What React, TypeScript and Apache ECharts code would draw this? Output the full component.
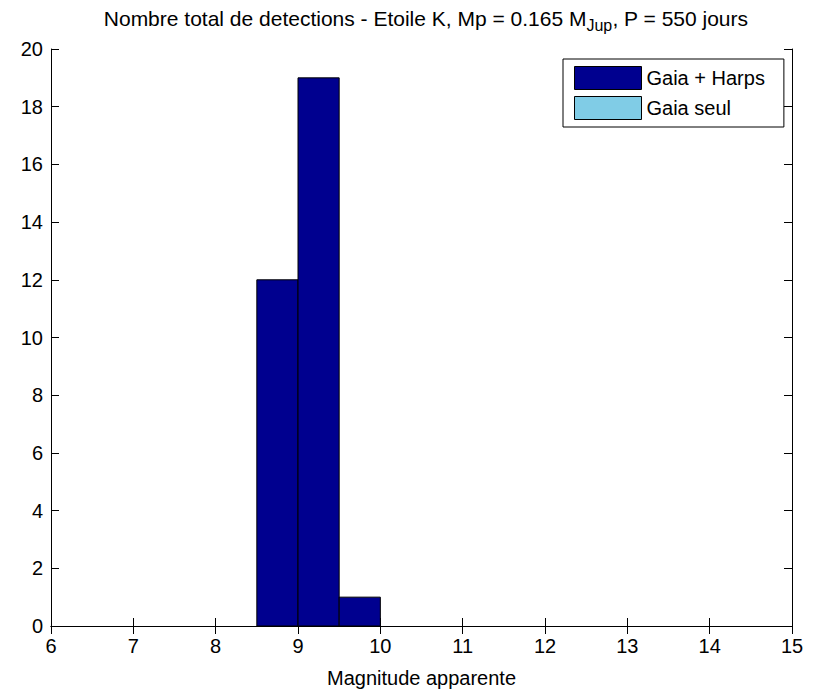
import React, { useEffect, useRef } from "react";
import * as echarts from "echarts";

const binStarts = [8.5, 9.0, 9.5];
const binEnds = [9.0, 9.5, 10.0];
const gaiaHarps = [12, 19, 1];
const gaiaSeul = [0, 0, 0];
const xTicks = [6, 7, 8, 9, 10, 11, 12, 13, 14, 15];
const seriesNames = ["Gaia + Harps", "Gaia seul"];

const FONT = "Liberation Sans, Arial, Helvetica, sans-serif";

export default function App() {
  const ref = useRef<HTMLDivElement>(null);
  useEffect(() => {
    if (!ref.current) return;
    const chart = echarts.init(ref.current, undefined, { renderer: "svg" });
    const mk = (vals: number[]) =>
      vals.map((v, i) => [binStarts[i], binEnds[i], v]);
    const renderItem = (color: string) => (params: any, api: any) => {
      const x0 = api.value(0);
      const x1 = api.value(1);
      const v = api.value(2);
      if (!v) return null;
      const p0 = api.coord([x0, v]);
      const p1 = api.coord([x1, 0]);
      return {
        type: "rect",
        shape: { x: p0[0], y: p0[1], width: p1[0] - p0[0], height: p1[1] - p0[1] },
        style: { fill: color, stroke: "#000", lineWidth: 1 },
      };
    };
    const axisCommon = {
      axisLine: { show: true, lineStyle: { color: "#000", width: 1 } },
      splitLine: { show: false },
    };
    const tick = { show: true, inside: true, length: 8, lineStyle: { color: "#000" } };
    chart.setOption({
      animation: false,
      backgroundColor: "#fff",
      textStyle: { fontFamily: FONT },
      title: {
        text: "Nombre total de detections - Etoile K, Mp = 0.165 M{sub|Jup}, P = 550 jours",
        left: 421,
        textAlign: "center",
        top: -2,
        textStyle: {
          fontSize: 21,
          fontWeight: "normal",
          color: "#000",
          fontFamily: FONT,
          rich: {
            sub: { fontSize: 16, verticalAlign: "bottom", padding: [14, 0, 0, 0], fontFamily: FONT, color: "#000" },
          },
        },
      },
      legend: {
        orient: "vertical",
        left: 563,
        top: 59,
        itemWidth: 67,
        itemHeight: 23,
        itemGap: 6,
        padding: [7, 19, 7, 11],
        borderColor: "#000",
        borderWidth: 1,
        backgroundColor: "#fff",
        icon: "rect",
        textStyle: { fontSize: 20, color: "#000", fontFamily: FONT, padding: [0, 0, 0, 0] },
        itemStyle: { borderColor: "#000", borderWidth: 1 },
        data: seriesNames,
      },
      grid: { left: 51, right: 25, top: 49, bottom: 60 },
      xAxis: [
        {
          type: "value",
          min: 6,
          max: 15,
          interval: 1,
          position: "bottom",
          ...axisCommon,
          axisTick: tick,
          axisLabel: {
            fontSize: 20,
            color: "#000",
            margin: 10,
            fontFamily: FONT,
            formatter: (v: number) => (xTicks.includes(v) ? String(v) : ""),
          },
          name: "Magnitude apparente",
          nameLocation: "middle",
          nameGap: 42,
          nameTextStyle: { fontSize: 20, color: "#000", fontFamily: FONT },
        },
        {
          type: "value",
          min: 6,
          max: 15,
          interval: 1,
          position: "top",
          ...axisCommon,
          axisTick: tick,
          axisLabel: { show: false },
        },
      ],
      yAxis: [
        {
          type: "value",
          min: 0,
          max: 20,
          interval: 2,
          position: "left",
          ...axisCommon,
          axisTick: tick,
          axisLabel: { fontSize: 20, color: "#000", margin: 8, fontFamily: FONT },
        },
        {
          type: "value",
          min: 0,
          max: 20,
          interval: 2,
          position: "right",
          ...axisCommon,
          axisTick: tick,
          axisLabel: { show: false },
        },
      ],
      series: [
        {
          name: seriesNames[0],
          type: "custom",
          xAxisIndex: 0,
          yAxisIndex: 0,
          itemStyle: { color: "#00008F" },
          renderItem: renderItem("#00008F"),
          encode: { x: [0, 1], y: 2 },
          data: mk(gaiaHarps),
        },
        {
          name: seriesNames[1],
          type: "custom",
          xAxisIndex: 0,
          yAxisIndex: 0,
          itemStyle: { color: "#80CCE6" },
          renderItem: renderItem("#80CCE6"),
          encode: { x: [0, 1], y: 2 },
          data: mk(gaiaSeul),
        },
      ],
    });
    return () => chart.dispose();
  }, []);
  return (
    <div
      ref={ref}
      style={{ position: "fixed", left: 0, top: 0, width: 817, height: 693, background: "#fff" }}
    />
  );
}
